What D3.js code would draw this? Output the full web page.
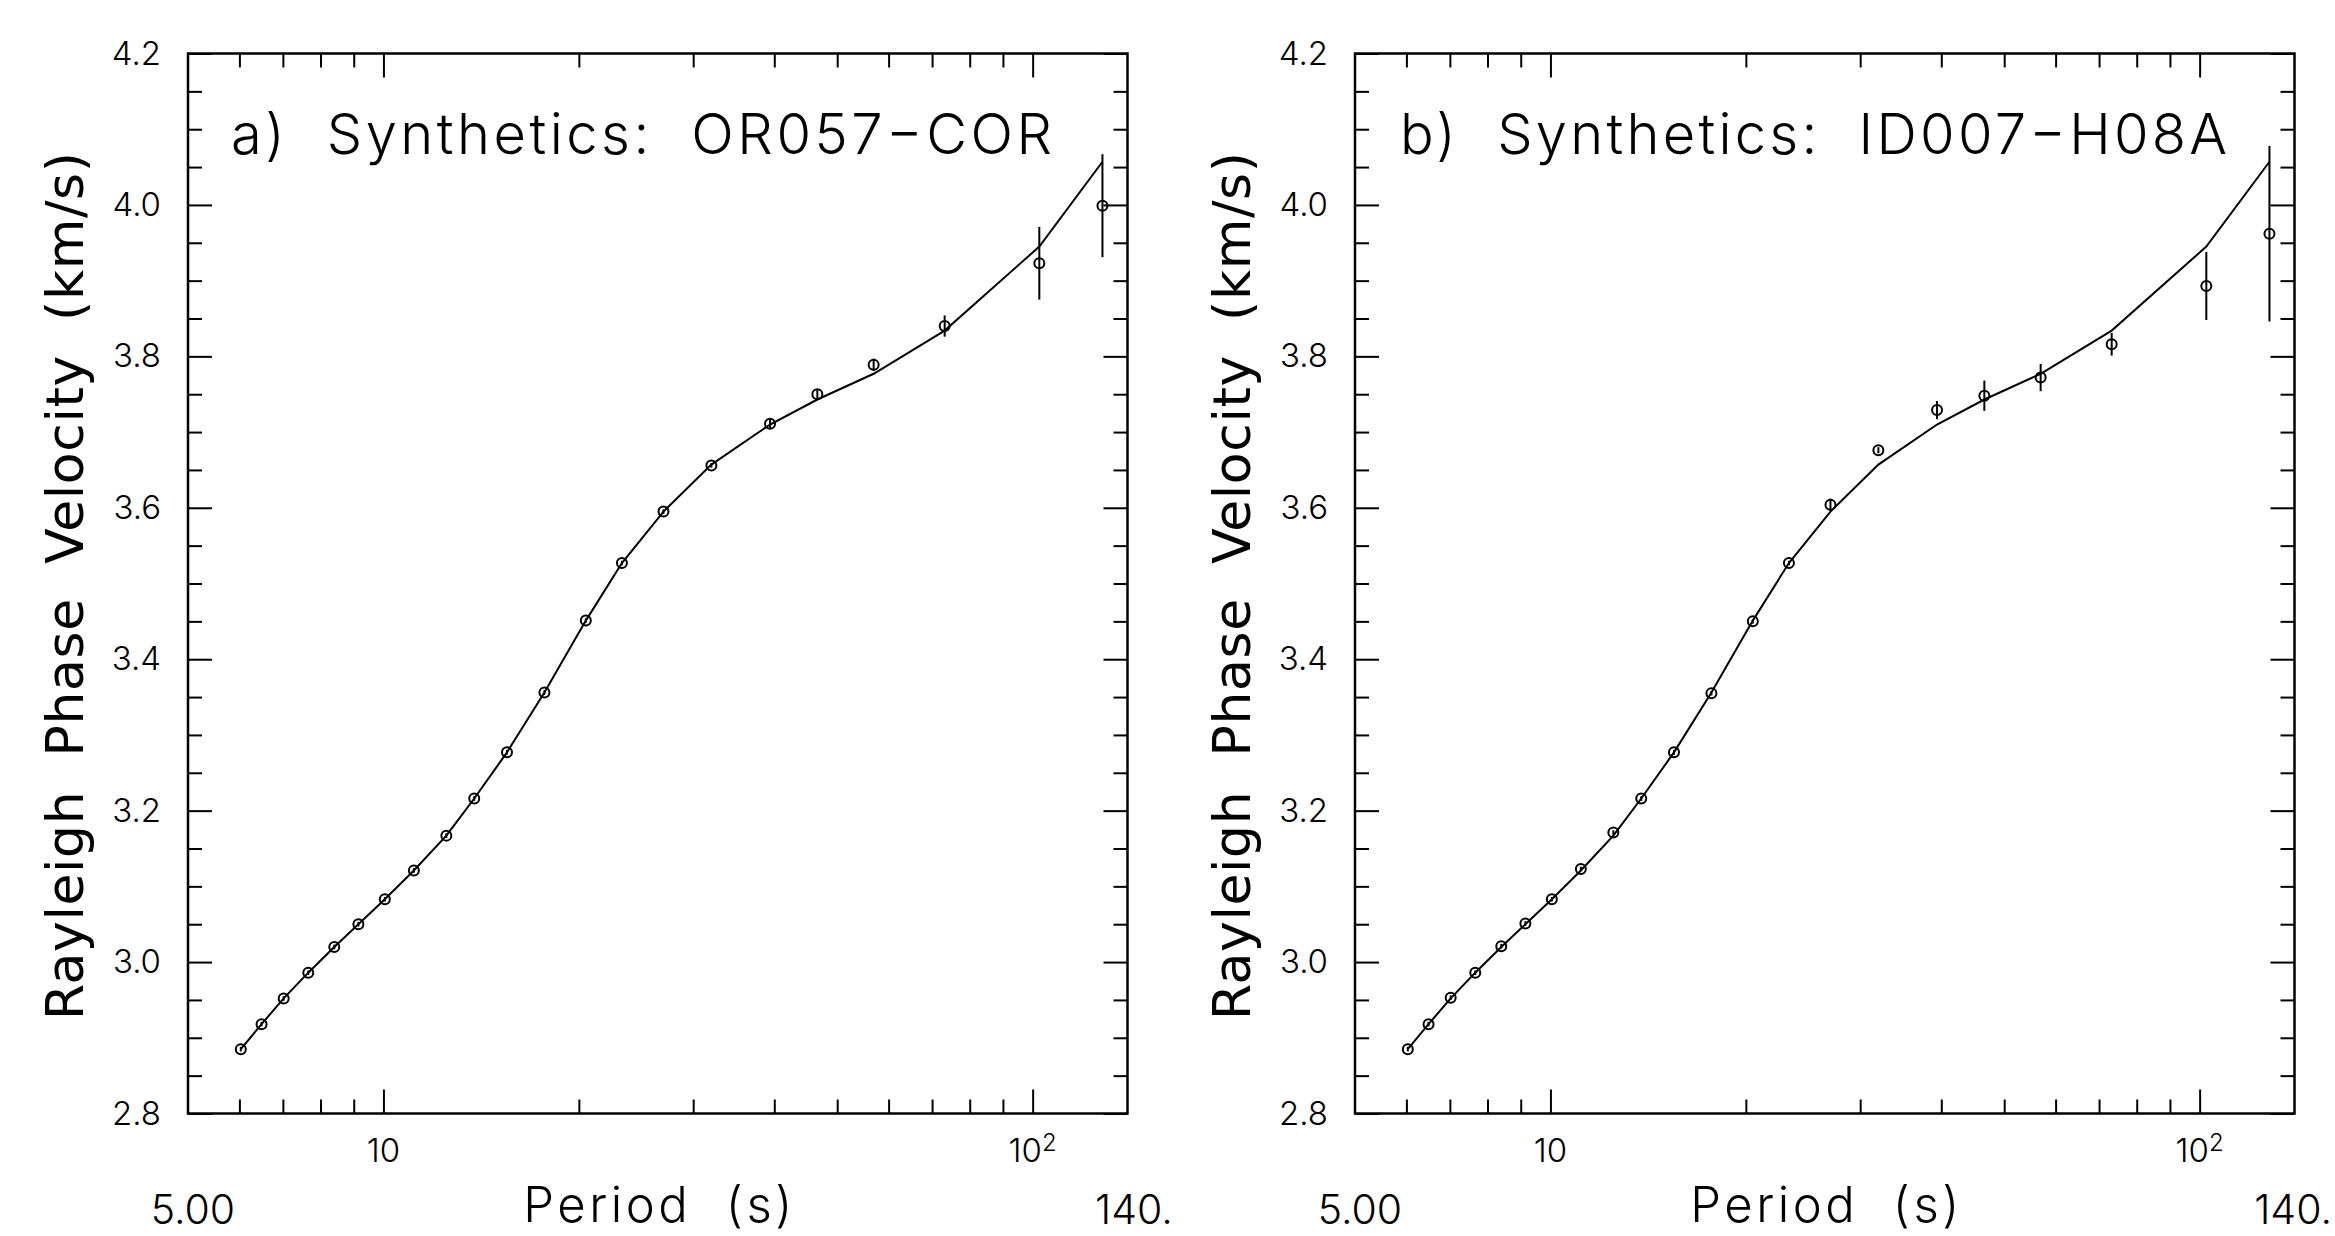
<!DOCTYPE html>
<html>
<head>
<meta charset="utf-8">
<script src="https://cdn.jsdelivr.net/npm/d3@7"></script>
<style>
  body { margin: 0; background: #fff; }
  svg { display: block; }
  text { white-space: pre; }
</style>
</head>
<body>
<svg id="chart" width="2335" height="1236"></svg>
<script>
// periods (s) of the measurements, same for both panels
const periods = [6.03, 6.49, 7.02, 7.66, 8.40, 9.15, 10.05, 11.14, 12.5, 13.8, 15.5, 17.7,
                 20.5, 23.3, 27.0, 32.0, 39.4, 46.6, 56.9, 73.2, 102.4, 128.1];
// model (solid line) phase velocity, km/s
const modelVelocity = [2.885, 2.918, 2.952, 2.986, 3.020, 3.050, 3.083, 3.121, 3.167, 3.216, 3.277, 3.356,
                       3.451, 3.527, 3.595, 3.657, 3.710, 3.743, 3.777, 3.834, 3.945, 4.057];
// panel a: synthetic measurements and their errors
const velocityA = [2.885, 2.918, 2.952, 2.986, 3.020, 3.050, 3.083, 3.121, 3.167, 3.216, 3.277, 3.356,
                   3.451, 3.527, 3.595, 3.656, 3.711, 3.750, 3.789, 3.840, 3.923, 3.999];
const errorA = [0.003, 0.003, 0.003, 0.003, 0.003, 0.003, 0.003, 0.003, 0.003, 0.003, 0.003, 0.003,
                0.003, 0.003, 0.003, 0.003, 0.006, 0.006, 0.008, 0.014, 0.048, 0.068];
// panel b
const velocityB = [2.885, 2.918, 2.953, 2.986, 3.021, 3.051, 3.083, 3.123, 3.171, 3.216, 3.277, 3.355,
                   3.450, 3.527, 3.604, 3.676, 3.729, 3.748, 3.772, 3.816, 3.893, 3.962];
const errorB = [0.003, 0.003, 0.003, 0.003, 0.003, 0.003, 0.003, 0.003, 0.003, 0.003, 0.003, 0.003,
                0.003, 0.003, 0.008, 0.004, 0.012, 0.020, 0.018, 0.015, 0.045, 0.116];

const panelTitles = ['a)  Synthetics:  OR057\u2212COR', 'b)  Synthetics:  ID007\u2212H08A'];
const yMajorTicks = [2.8, 3.0, 3.2, 3.4, 3.6, 3.8, 4.0, 4.2];
const yMinorTicks = [2.85, 2.9, 2.95, 3.05, 3.1, 3.15, 3.25, 3.3, 3.35, 3.45, 3.5, 3.55,
                     3.65, 3.7, 3.75, 3.85, 3.9, 3.95, 4.05, 4.1, 4.15];
const xMajorTicks = [10, 100];
const xMinorTicks = [6, 7, 8, 9, 20, 30, 40, 50, 60, 70, 80, 90];
const xRangeLabels = ['5.00', '140.'];
const xAxisTitle = 'Period  (s)';
const yAxisTitle = 'Rayleigh  Phase  Velocity  (km/s)';

const chart = {};
chart.margin = {top: 53.5, bottom: 122.5};
chart.lefts = [188, 1355];
chart.width = 939.5;
chart.height = 1236 - chart.margin.top - chart.margin.bottom;
chart.pageWidth = 2335;
chart.thinFont = 'Inter, "DejaVu Sans", sans-serif';

/**
 * style the texts of an axis group and drop its domain path
 */
chart.cleanAxis = function(sel, size){
    sel.select('.domain').remove();
    sel.selectAll('line').attr('stroke', '#000').attr('stroke-width', 2);
    sel.selectAll('text')
        .attr('font-family', chart.thinFont)
        .attr('font-weight', 300)
        .attr('font-size', size)
        .attr('fill', '#000');
};

/**
 * draw one panel at the given left offset
 */
chart.drawPanel = function(svg, panel){
    const w = this.width, h = this.height;
    const g = svg.append('g')
        .attr('transform', `translate(${panel.left},${this.margin.top})`);

    const x = d3.scaleLog().domain([5, 140]).range([0, w]);
    const y = d3.scaleLinear().domain([2.8, 4.2]).range([h, 0]);

    // y ticks, inward on both sides
    g.append('g').call(d3.axisLeft(y).tickValues(yMinorTicks).tickSize(-14).tickFormat(''))
        .call(s => chart.cleanAxis(s, 33));
    g.append('g').call(d3.axisLeft(y).tickValues(yMajorTicks).tickSize(-24).tickPadding(27)
            .tickFormat(d3.format('.1f')))
        .call(s => chart.cleanAxis(s, 33));
    g.append('g').attr('transform', `translate(${w},0)`)
        .call(d3.axisRight(y).tickValues(yMinorTicks).tickSize(-14).tickFormat(''))
        .call(s => chart.cleanAxis(s, 33));
    g.append('g').attr('transform', `translate(${w},0)`)
        .call(d3.axisRight(y).tickValues(yMajorTicks).tickSize(-24).tickFormat(''))
        .call(s => chart.cleanAxis(s, 33));

    // x ticks, inward on top and bottom
    g.append('g').attr('transform', `translate(0,${h})`)
        .call(d3.axisBottom(x).tickValues(xMinorTicks).tickSize(-14).tickFormat(''))
        .call(s => chart.cleanAxis(s, 33));
    g.append('g').attr('transform', `translate(0,${h})`)
        .call(d3.axisBottom(x).tickValues(xMajorTicks).tickSize(-24).tickFormat(''))
        .call(s => chart.cleanAxis(s, 33));
    g.append('g')
        .call(d3.axisTop(x).tickValues(xMinorTicks).tickSize(-14).tickFormat(''))
        .call(s => chart.cleanAxis(s, 33));
    g.append('g')
        .call(d3.axisTop(x).tickValues(xMajorTicks).tickSize(-24).tickFormat(''))
        .call(s => chart.cleanAxis(s, 33));

    // frame
    g.append('rect')
        .attr('width', w).attr('height', h)
        .attr('fill', 'none').attr('stroke', '#000').attr('stroke-width', 2.5);

    // decade labels 10 and 10^2
    const decade = g.append('g')
        .attr('font-family', this.thinFont).attr('font-weight', 300)
        .attr('font-size', 33).attr('text-anchor', 'middle');
    decade.selectAll('text').data(xMajorTicks).join('text')
        .attr('x', d => x(d))
        .attr('y', h + 48)
        .each(function(d){
            const t = d3.select(this);
            if(d === 10){
                t.text('10');
            }
            else{
                t.append('tspan').text('10');
                t.append('tspan').attr('font-size', 24).attr('dy', -11).text(Math.log10(d));
            }
        });

    // range labels under the axis
    const range = g.append('g')
        .attr('font-family', this.thinFont).attr('font-weight', 300).attr('font-size', 41);
    range.append('text').attr('x', -37.3).attr('y', h + 110.5).text(xRangeLabels[0]);
    const endLabel = range.append('text').attr('x', w - 32.5).attr('y', h + 110.5).text(xRangeLabels[1]);
    // keep the right label inside the page
    const room = this.pageWidth - 3 - panel.left;
    const len = endLabel.node().getComputedTextLength();
    if(w - 32.5 + len > room){
        endLabel.attr('x', room - len);
    }

    // axis titles
    g.append('text')
        .attr('x', w / 2).attr('y', h + 108)
        .attr('text-anchor', 'middle')
        .attr('font-family', this.thinFont).attr('font-weight', 300).attr('font-size', 49)
        .attr('textLength', 269).attr('lengthAdjust', 'spacing')
        .text(xAxisTitle);
    g.append('text')
        .attr('transform', `translate(-105,${h / 2 + 2.5}) rotate(-90)`)
        .attr('text-anchor', 'middle')
        .attr('font-family', '"DejaVu Sans", sans-serif').attr('font-size', 52)
        .attr('textLength', 868).attr('lengthAdjust', 'spacing')
        .text(yAxisTitle);

    // panel title
    g.append('text')
        .attr('x', panel.titleX).attr('y', 154 - this.margin.top)
        .attr('font-family', this.thinFont).attr('font-weight', 300).attr('font-size', 56)
        .attr('textLength', panel.titleLength).attr('lengthAdjust', 'spacing')
        .text(panel.title);

    // model curve
    const modelPoints = periods.map((p, i) => ({period: p, v: modelVelocity[i]}));
    const line = d3.line().x(d => x(d.period)).y(d => y(d.v));
    g.append('path')
        .datum(modelPoints)
        .attr('d', line)
        .attr('fill', 'none').attr('stroke', '#000').attr('stroke-width', 2);

    // measurements with error bars
    const obs = periods.map((p, i) => ({period: p, v: panel.velocity[i], e: panel.error[i]}));
    g.append('g').selectAll('line').data(obs).join('line')
        .attr('x1', d => x(d.period)).attr('x2', d => x(d.period))
        .attr('y1', d => y(d.v - d.e)).attr('y2', d => y(d.v + d.e))
        .attr('stroke', '#000').attr('stroke-width', 2);
    g.append('g').selectAll('circle').data(obs).join('circle')
        .attr('cx', d => x(d.period)).attr('cy', d => y(d.v))
        .attr('r', 5)
        .attr('fill', 'none').attr('stroke', '#000').attr('stroke-width', 2);
};

const svg = d3.select('#chart');
chart.drawPanel(svg, {left: chart.lefts[0], title: panelTitles[0], titleX: 43, titleLength: 821,
                      velocity: velocityA, error: errorA});
chart.drawPanel(svg, {left: chart.lefts[1], title: panelTitles[1], titleX: 45, titleLength: 827,
                      velocity: velocityB, error: errorB});
</script>
</body>
</html>
